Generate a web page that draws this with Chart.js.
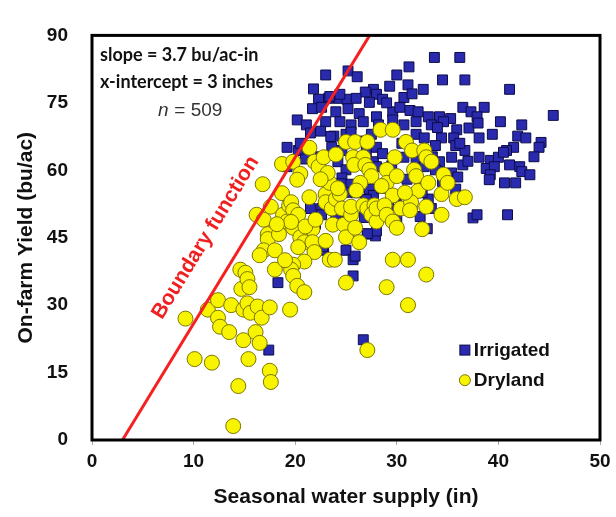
<!DOCTYPE html>
<html>
<head>
<meta charset="utf-8">
<script src="https://cdn.jsdelivr.net/npm/chart.js@4.4.1/dist/chart.umd.min.js"></script>
<style>
  html, body { margin: 0; padding: 0; background: #fff; }
  #wrap { width: 616px; height: 517px; }
</style>
</head>
<body>
<div id="wrap"><canvas id="grafico"></canvas></div>
<script>
// ejes
const xTicks = [0, 10, 20, 30, 40, 50];
const yTicks = [0, 15, 30, 45, 60, 75, 90];

// función límite: pendiente 3.7 bu/ac-in, corte en x = 3 in
const boundarySlope = 3.7;
const boundaryIntercept = 3;

// Irrigated (cuadrados azules)
const irrigatedX = [
    33.7, 36.2, 34.5, 36.7, 31.2, 30.0, 25.2, 23.0, 26.1, 21.8, 31.1, 32.6, 41.1, 27.7, 26.9, 29.3, 28.0,
    22.3, 23.3, 24.3, 25.1, 26.0, 27.3, 28.6, 30.7, 21.7, 22.6, 24.0, 25.2, 26.3, 28.0, 29.6, 30.3, 31.3,
    32.1, 33.1, 34.2, 35.3, 36.5, 37.3, 38.6, 37.9, 45.4, 40.2, 42.3, 20.2, 21.1, 23.0, 24.4, 25.5, 26.7,
    28.2, 29.6, 30.7, 31.9, 33.4, 34.6, 35.9, 37.1, 21.5, 22.5, 23.8, 25.0, 27.5, 31.9, 32.7, 34.4, 35.6,
    38.1, 39.4, 41.9, 42.7, 44.2, 44.0, 41.5, 40.8, 19.2, 20.3, 23.6, 24.6, 28.0, 33.8, 35.8, 36.7, 38.1,
    39.2, 40.0, 35.4, 34.2, 36.5, 38.8, 39.6, 41.1, 42.1, 42.3, 43.1, 39.2, 39.1, 40.6, 41.7, 40.9, 37.5,
    37.9, 19.2, 24.2, 25.0, 24.6, 25.4, 27.7, 28.0, 28.6, 30.7, 31.9, 32.7, 33.8, 35.4, 35.8, 27.3, 27.7,
    25.0, 23.6, 22.6, 21.5, 22.6, 32.3, 33.1, 31.5, 32.3, 33.4, 25.0, 27.1, 27.9, 25.0, 25.7, 25.7, 22.8,
    18.3, 17.4, 26.7, 30.0, 29.2, 24.5, 26.0, 27.0, 28.5, 29.5, 31.0, 32.5, 33.5, 30.5, 27.0, 25.5, 26.5,
    22.5, 23.5, 21.0, 20.5, 36.0, 37.0, 34.5, 30.0, 28.0, 24.0, 22.0, 26.8, 33.0, 27.1, 25.9, 22.7, 23.4,
    24.4, 29.0, 31.5, 34.0, 36.2, 38.0, 40.5, 43.5
];
const irrigatedY = [
    85.1, 85.1, 80.1, 80.1, 83.0, 81.2, 82.1, 81.2, 80.8, 78.1, 79.0, 78.0, 78.0, 78.0, 77.4, 78.7, 76.9,
    75.8, 76.0, 76.0, 75.8, 76.0, 75.1, 75.8, 76.2, 73.7, 74.0, 73.0, 73.7, 72.6, 71.9, 73.0, 74.0, 73.3,
    73.0, 71.9, 71.9, 71.5, 74.0, 73.0, 74.0, 71.9, 72.2, 70.8, 70.1, 71.2, 70.1, 70.8, 70.8, 70.1, 70.8,
    70.1, 71.2, 70.1, 70.8, 70.1, 70.8, 69.0, 69.4, 68.3, 68.7, 67.6, 68.0, 68.0, 68.0, 67.2, 67.2, 67.2,
    67.2, 68.0, 67.6, 67.2, 66.2, 65.1, 65.1, 64.4, 65.1, 64.4, 65.1, 64.4, 65.1, 65.5, 65.5, 64.4, 62.9,
    62.2, 62.9, 62.9, 61.9, 61.2, 60.4, 60.8, 61.2, 60.8, 59.7, 59.0, 59.0, 57.9, 57.2, 57.2, 50.1, 49.4,
    50.1, 60.8, 61.9, 60.1, 58.3, 56.9, 61.9, 60.8, 63.7, 62.9, 62.6, 60.8, 60.1, 59.4, 55.8, 55.8, 54.4,
    55.1, 53.3, 51.5, 51.5, 50.1, 56.5, 53.6, 52.2, 49.7, 51.5, 48.6, 45.8, 45.4, 42.2, 40.1, 36.5, 42.2,
    35.0, 20.0, 22.3, 54.4, 52.2, 57.0, 55.0, 53.5, 56.0, 61.0, 58.0, 55.0, 63.0, 66.0, 64.0, 68.5, 66.5,
    63.0, 67.5, 62.5, 66.0, 58.5, 62.0, 57.5, 49.0, 46.5, 49.5, 48.0, 49.5, 47.0, 45.9, 40.9, 43.0, 76.4,
    76.9, 75.0, 77.0, 69.5, 66.0, 70.5, 64.0, 63.0
];

// Dryland (círculos amarillos)
const drylandX = [
    9.2, 10.1, 11.8, 11.4, 12.4, 12.4, 12.6, 13.5, 13.7, 13.9, 14.4, 14.9, 14.9, 15.4, 14.6, 14.7, 15.1,
    15.3, 15.5, 15.3, 15.6, 16.3, 16.1, 16.5, 16.7, 17.5, 17.5, 17.6, 16.8, 16.2, 16.9, 17.3, 17.3, 16.9,
    16.5, 18.0, 18.0, 17.6, 18.7, 18.7, 19.8, 20.5, 20.2, 18.8, 19.4, 19.6, 19.8, 20.3, 19.2, 19.8, 18.4,
    20.5, 20.9, 20.3, 21.7, 21.7, 21.9, 20.9, 19.8, 19.6, 19.8, 20.2, 20.9, 19.5, 21.4, 21.4, 21.9, 22.3,
    22.8, 23.0, 23.0, 23.4, 23.2, 23.6, 23.7, 24.0, 24.4, 24.6, 24.8, 23.0, 23.4, 23.9, 25.0, 25.0, 25.5,
    25.9, 26.3, 25.5, 25.0, 25.9, 27.1, 25.7, 26.7, 25.8, 26.9, 27.3, 27.5, 26.4, 26.7, 27.1, 27.8, 27.5,
    28.0, 28.0, 27.1, 28.4, 29.6, 29.0, 29.0, 29.8, 30.0, 29.6, 28.8, 29.0, 29.6, 30.0, 30.4, 29.6, 31.1,
    29.0, 31.1, 30.9, 31.5, 31.7, 31.9, 32.1, 31.4, 31.3, 32.5, 32.9, 32.7, 32.9, 33.4, 33.1, 32.9, 34.4,
    34.4, 34.6, 35.0, 35.9, 36.7, 19.6, 21.0, 22.0, 24.2, 26.0, 28.5, 30.8, 22.5, 24.0, 18.2, 19.0
];
const drylandY = [
    27.0, 18.0, 17.2, 29.0, 31.1, 27.2, 25.2, 24.0, 30.0, 3.1, 12.0, 22.2, 29.0, 18.0, 37.9, 33.6, 37.2,
    35.8, 34.0, 30.4, 28.3, 29.7, 24.0, 21.6, 27.2, 29.5, 15.4, 12.9, 56.9, 50.1, 49.0, 45.8, 44.7, 42.2,
    41.1, 42.2, 37.9, 51.9, 54.9, 61.4, 61.9, 59.2, 57.9, 50.1, 52.2, 52.9, 51.1, 50.1, 48.6, 47.2, 45.8,
    45.1, 44.0, 42.9, 46.9, 44.0, 41.8, 39.7, 39.0, 37.9, 36.5, 34.3, 32.9, 29.0, 54.0, 65.0, 61.9, 60.8,
    62.9, 54.7, 52.9, 57.2, 59.4, 51.5, 47.9, 53.6, 54.7, 51.5, 47.9, 44.3, 40.1, 40.1, 45.1, 35.0, 50.1,
    47.2, 44.0, 51.9, 66.3, 66.3, 66.3, 62.9, 62.9, 61.2, 61.2, 60.1, 58.7, 57.2, 52.2, 51.5, 52.2, 50.1,
    48.6, 51.5, 20.0, 69.0, 69.0, 60.1, 57.2, 62.9, 58.7, 54.4, 52.2, 50.1, 48.6, 47.2, 51.5, 40.1, 40.1,
    34.0, 30.0, 66.3, 64.4, 60.1, 58.7, 55.4, 52.9, 51.1, 46.9, 51.9, 64.4, 62.9, 61.9, 57.2, 36.8, 50.1,
    54.7, 59.0, 57.2, 53.6, 54.0, 48.5, 47.5, 49.0, 56.0, 55.5, 56.5, 55.0, 58.0, 63.5, 48.0, 40.0
];

const irrigated = irrigatedX.map((x, i) => ({ x: x, y: irrigatedY[i] }));
const dryland = drylandX.map((x, i) => ({ x: x, y: drylandY[i] }));
const yTop = yTicks[yTicks.length - 1];
const boundary = [
    { x: boundaryIntercept, y: 0 },
    { x: boundaryIntercept + yTop / boundarySlope, y: yTop }
];

const BLUE = "#2a2aae";
const BLUE_EDGE = "#0c0c4a";
const YELLOW = "#f8f400";
const YELLOW_EDGE = "#7c7600";

// textos, marco y leyenda dibujados a mano
const extras = {
    id: "extras",
    afterDraw(chart) {
        const ctx = chart.ctx;
        const a = chart.chartArea;
        const xs = chart.scales.x;
        const ys = chart.scales.y;
        ctx.save();

        // marco
        ctx.strokeStyle = "#000";
        ctx.lineWidth = 3;
        ctx.strokeRect(a.left, a.top, a.right - a.left, a.bottom - a.top);

        // anotaciones
        ctx.fillStyle = "#111";
        ctx.textAlign = "left";
        ctx.textBaseline = "alphabetic";
        ctx.font = "bold 18px Lato";
        ctx.fillText("slope = 3.7 bu/ac-in", a.left + 8, a.top + 26);
        ctx.fillText("x-intercept = 3 inches", a.left + 8, a.top + 53);
        ctx.fillStyle = "#333";
        ctx.font = "italic 19px 'Liberation Sans'";
        ctx.fillText("n", a.left + 66, a.top + 81);
        ctx.font = "19px 'Liberation Sans'";
        ctx.fillText(" = 509", a.left + 77, a.top + 81);

        // etiqueta de la función límite
        const yMid = 41;
        const px = xs.getPixelForValue(boundaryIntercept + yMid / boundarySlope);
        const py = ys.getPixelForValue(yMid);
        const ang = Math.atan2(ys.getPixelForValue(0) - ys.getPixelForValue(boundarySlope), xs.getPixelForValue(1) - xs.getPixelForValue(0));
        ctx.translate(px, py);
        ctx.rotate(-ang);
        ctx.fillStyle = "#f02020";
        ctx.font = "bold 21px 'Liberation Sans'";
        ctx.textAlign = "center";
        ctx.textBaseline = "bottom";
        ctx.fillText("Boundary function", 0, -24);
        ctx.setTransform(1, 0, 0, 1, 0, 0);

        // leyenda
        const lx = xs.getPixelForValue(36.7);
        const ly1 = ys.getPixelForValue(20.0);
        const ly2 = ys.getPixelForValue(13.3);
        ctx.lineWidth = 1;
        ctx.fillStyle = BLUE;
        ctx.strokeStyle = BLUE_EDGE;
        ctx.fillRect(lx - 5, ly1 - 5, 10, 10);
        ctx.strokeRect(lx - 5, ly1 - 5, 10, 10);
        ctx.fillStyle = YELLOW;
        ctx.strokeStyle = YELLOW_EDGE;
        ctx.beginPath();
        ctx.arc(lx, ly2, 5.5, 0, Math.PI * 2);
        ctx.fill();
        ctx.stroke();
        ctx.fillStyle = "#111";
        ctx.font = "bold 19px 'Liberation Sans'";
        ctx.textAlign = "left";
        ctx.textBaseline = "middle";
        ctx.fillText("Irrigated", lx + 9, ly1 + 1);
        ctx.fillText("Dryland", lx + 9, ly2 + 1);
        ctx.restore();
    }
};

const chart = new Chart(document.getElementById("grafico"), {
    type: "scatter",
    data: {
        datasets: [
            {
                type: "line",
                label: "Boundary function",
                data: boundary,
                borderColor: "#f52020",
                borderWidth: 3,
                pointRadius: 0,
                fill: false,
                order: 0
            },
            {
                label: "Dryland",
                data: dryland,
                pointStyle: "circle",
                pointRadius: 7.5,
                pointBackgroundColor: YELLOW,
                pointBorderColor: YELLOW_EDGE,
                pointBorderWidth: 1,
                order: 1
            },
            {
                label: "Irrigated",
                data: irrigated,
                pointStyle: "rect",
                pointRadius: 7,
                pointBackgroundColor: BLUE,
                pointBorderColor: BLUE_EDGE,
                pointBorderWidth: 1,
                order: 2
            }
        ]
    },
    options: {
        responsive: true,
        maintainAspectRatio: false,
        animation: false,
        layout: { padding: { top: 22, right: 16, left: 0, bottom: 0 } },
        plugins: {
            legend: { display: false },
            tooltip: { enabled: false }
        },
        scales: {
            x: {
                type: "linear",
                min: xTicks[0],
                max: xTicks[xTicks.length - 1],
                afterBuildTicks: s => { s.ticks = xTicks.map(v => ({ value: v })); },
                afterFit: s => { s.height = 77; },
                grid: { drawOnChartArea: false, drawTicks: true, tickLength: 5, color: "#aaa" },
                border: { display: false },
                ticks: { color: "#111", padding: 5, font: { family: "'Liberation Sans'", size: 19, weight: "bold" } },
                title: {
                    display: true,
                    text: "Seasonal water supply (in)",
                    color: "#111",
                    padding: { top: 0, bottom: 7 },
                    font: { family: "'Liberation Sans'", size: 21, weight: "bold" }
                }
            },
            y: {
                type: "linear",
                min: yTicks[0],
                max: yTicks[yTicks.length - 1],
                afterBuildTicks: s => { s.ticks = yTicks.map(v => ({ value: v })); },
                afterFit: s => { s.width = 92; },
                grid: { drawOnChartArea: false, drawTicks: false },
                border: { display: false },
                ticks: { color: "#111", padding: 24, font: { family: "'Liberation Sans'", size: 19, weight: "bold" } },
                title: {
                    display: true,
                    text: "On-farm Yield (bu/ac)",
                    color: "#111",
                    padding: { top: 14, bottom: 0 },
                    font: { family: "'Liberation Sans'", size: 21, weight: "bold" }
                }
            }
        }
    },
    plugins: [extras]
});
</script>
</body>
</html>
